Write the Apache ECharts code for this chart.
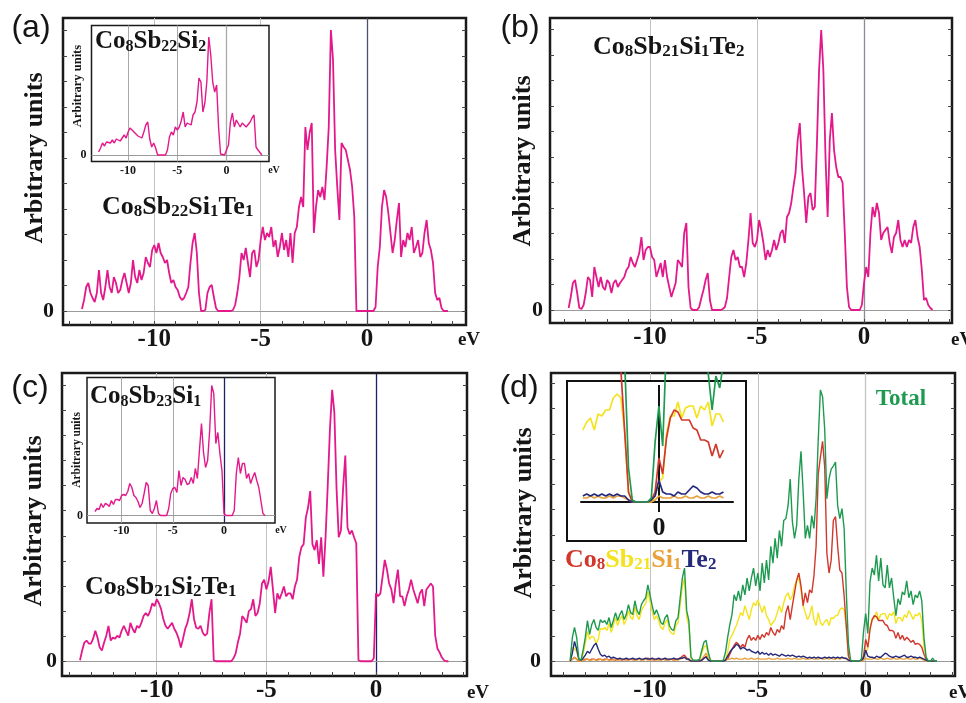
<!DOCTYPE html>
<html><head><meta charset="utf-8">
<script src="https://cdn.jsdelivr.net/npm/echarts@6/dist/echarts.min.js"></script>
<style>html,body{margin:0;padding:0;background:#fff}#c{width:966px;height:703px}</style>
</head><body><div id="c"></div>
<script>
// ---------------- data (arbitrary units) ----------------
const xLabels = [-10, -5, 0];
const yLabels = [0];
const xMinorTicks = [-14,-13,-12,-11,-10,-9,-8,-7,-6,-5,-4,-3,-2,-1,0,1,2,3,4];

// (a) Co8Sb22Si1Te1 : -13.4 .. 3.8 eV, step 0.1
const A_START = -13.4, A_STEP = 0.1;
const dosA = [
 2,11,24,28,18,13,9,18,41,18,
 11,24,41,24,18,34,28,18,21,31,
 38,28,18,28,51,34,28,41,31,38,
 54,48,44,61,66,58,68,58,54,48,
 51,38,28,31,24,21,14,11,13,18,
 24,48,68,78,58,18,0,0,1,18,
 24,26,14,3,0,0,0,0,0,0,
 0,1,6,18,34,58,51,63,48,34,
 58,61,44,51,71,84,71,78,74,84,
 64,71,54,64,78,61,71,54,78,48,
 78,84,104,114,104,184,161,178,188,78,
 104,121,114,124,111,144,184,281,251,161,
 124,91,168,164,161,151,141,124,94,0,
 0,0,0,0,0,0,0,0,4,44,
 64,104,121,114,98,78,58,71,91,108,
 54,71,64,78,71,84,58,64,71,54,
 58,78,91,68,61,48,18,11,13,3,
 0,0,0
];
// (a) inset Co8Sb22Si2 : -13.0 .. 3.6 eV, step 0.2
const IA_START = -13.0, IA_STEP = 0.2;
const dosInsetA = [
 3,7,12,9,13,11,12,15,12,16,
 17,14,15,20,17,23,27,29,23,21,
 19,17,17,23,30,33,16,8,12,7,
 0,0,0,0,0,5,18,23,20,28,
 25,28,34,43,28,32,33,30,40,43,
 53,77,73,43,52,73,118,100,73,63,
 70,27,1,0,0,0,10,33,42,28,
 35,33,28,32,33,28,27,33,37,40,
 8,5,3,0
];
// (b) Co8Sb21Si1Te2 : -13.8 .. 3.2 eV, step 0.1
const B_START = -13.8, B_STEP = 0.1;
const dosB = [
 2,13,27,30,17,2,1,5,17,33,
 30,13,43,33,23,33,23,20,30,27,
 17,27,30,23,27,30,33,40,43,53,
 47,43,50,57,73,50,60,63,63,53,
 50,33,40,47,33,50,33,23,13,20,
 27,50,47,43,77,87,23,2,0,0,
 0,3,12,20,30,37,10,0,0,0,
 0,0,1,3,12,33,53,60,50,53,
 43,43,33,47,70,97,67,63,70,90,
 80,67,50,60,53,60,70,60,67,77,
 80,67,93,97,107,123,137,170,187,143,
 117,87,113,117,100,103,167,240,280,240,
 153,93,170,197,160,143,133,133,127,77,
 23,3,0,0,0,0,0,5,27,43,
 33,77,103,93,107,97,70,77,80,83,
 67,57,73,77,90,70,63,70,63,70,
 67,83,90,73,63,40,10,12,5,2,
 0
];
// (c) Co8Sb21Si2Te1 : -13.5 .. 3.3 eV, step 0.1
const C_START = -13.5, C_STEP = 0.1;
const dosC = [
 1,11,19,21,18,18,23,31,24,14,
 11,19,26,36,21,24,23,26,24,31,
 36,31,26,39,33,29,36,34,39,46,
 49,46,51,59,56,63,59,53,43,36,
 33,36,39,33,29,23,14,23,33,39,
 49,63,43,34,33,36,29,26,28,49,
 63,1,0,0,0,0,0,0,0,0,
 3,8,19,28,46,43,39,51,53,63,
 46,49,59,79,83,73,81,96,73,49,
 69,63,69,76,66,69,69,63,76,83,
 106,116,119,146,156,173,119,113,123,99,
 126,86,126,179,236,276,253,176,126,133,
 176,209,136,129,133,126,120,1,0,0,
 0,0,0,0,3,69,66,69,86,103,
 93,79,73,59,79,93,66,66,56,66,
 73,83,73,66,59,69,73,56,73,76,
 79,76,26,13,9,4,1,0,0
];
// (c) inset Co8Sb23Si1 : -12.6 .. 4.0 eV, step 0.2
const IC_START = -12.6, IC_STEP = 0.2;
const dosInsetC = [
 4,7,6,12,8,12,11,9,15,11,
 16,16,15,20,21,20,24,32,28,20,
 18,14,8,12,22,33,30,5,2,7,
 15,2,0,0,0,0,7,22,27,28,
 23,45,30,38,36,31,32,38,32,47,
 37,65,92,63,48,55,85,130,122,72,
 83,62,45,2,0,0,0,0,5,42,
 58,42,52,52,37,42,32,38,43,35,
 28,15,2,0
];
// (d) Co8Sb21Si1Te2 total and partial DOS : -13.7 .. 3.3 eV, step 0.1
const D_START = -13.7, D_STEP = 0.1;
const dosTotal = [
 1,24,34,24,2,1,11,24,41,27,
 37,42,34,31,42,39,41,37,44,34,
 41,49,41,47,51,42,47,57,49,47,
 61,51,47,57,61,64,77,67,56,47,
 52,46,39,37,44,47,36,32,31,41,
 44,64,84,94,51,41,4,1,1,1,
 2,11,19,21,9,1,0,0,0,0,
 0,1,9,24,37,47,67,61,71,61,
 77,67,84,71,84,94,76,89,71,99,
 79,102,82,116,99,124,104,132,116,142,
 144,157,184,141,124,137,184,212,171,124,
 137,124,147,134,164,224,274,267,234,164,
 184,194,197,201,157,144,154,134,70,17,
 1,0,0,0,0,2,30,48,28,80,
 94,87,107,81,104,77,74,97,74,84,
 64,46,63,57,70,67,81,64,71,57,
 67,64,71,61,24,4,0,0,3,0,
 0
];
const dosCo = [
 0,2,4,2,0,0,1,2,2,1,
 2,2,1,2,2,1,2,2,1,2,
 2,1,2,2,1,2,2,1,2,2,
 1,2,2,1,2,2,3,2,2,1,
 2,2,1,2,2,1,2,2,1,2,
 2,3,5,6,3,2,0,0,0,0,
 0,1,3,5,2,0,0,0,0,0,
 0,0,1,2,7,12,16,19,17,14,
 17,14,22,26,21,24,21,26,22,27,
 24,29,26,34,29,26,32,29,36,32,
 49,56,42,56,69,82,89,76,56,69,
 59,72,69,86,116,189,206,222,196,109,
 89,102,142,146,116,92,89,66,35,5,
 0,0,0,0,0,1,5,22,14,32,
 42,46,45,41,41,41,37,36,31,31,
 30,23,29,22,26,21,24,22,19,21,
 17,18,17,14,7,2,0,0,0,0,
 0
];
const dosSb = [
 0,14,12,10,1,0,7,18,30,22,
 25,24,18,22,33,32,34,31,38,29,
 36,44,36,42,46,37,42,51,44,42,
 55,46,42,51,55,58,70,61,50,42,
 46,41,34,32,39,42,31,28,27,36,
 39,57,75,84,44,36,3,0,0,0,
 1,8,14,16,7,1,0,0,0,0,
 0,0,2,9,22,26,31,36,42,49,
 46,56,49,42,52,59,56,62,56,49,
 56,46,42,36,39,42,49,56,49,59,
 66,69,62,66,76,81,84,72,56,49,
 42,46,56,42,36,49,39,36,40,42,
 36,44,43,46,46,52,54,52,35,5,
 0,0,0,0,0,0,3,10,12,34,
 43,43,50,42,47,48,48,42,48,46,
 50,38,44,44,40,47,44,51,47,42,
 47,46,49,41,14,4,0,0,0,0,
 0
];
const dosTe = [
 0,8,20,12,2,1,3,6,10,8,
 12,16,18,12,7,5,6,4,5,3,
 4,3,2,3,2,2,3,2,2,3,
 2,2,3,2,2,3,2,2,3,2,
 2,3,2,2,3,2,2,2,3,2,
 2,3,3,4,2,2,0,0,0,0,
 0,1,3,4,1,0,0,0,0,0,
 0,0,1,5,9,12,14,17,16,12,
 14,13,11,12,10,9,8,10,7,9,
 7,8,6,8,6,7,6,5,7,6,
 5,6,5,6,5,4,5,4,5,4,
 3,4,3,4,3,4,3,3,4,3,
 4,3,4,3,4,3,4,3,3,1,
 0,0,0,0,0,1,3,11,5,4,
 4,3,5,4,4,6,8,7,5,4,
 4,5,4,4,5,6,4,4,5,4,
 4,3,4,3,2,1,0,0,0,0,
 0
];
const dosSi = [
 0,2,4,2,0,0,1,1,2,1,
 1,2,1,1,2,1,1,2,1,1,
 1,2,1,1,2,1,1,1,2,1,
 1,1,2,1,1,2,1,1,1,2,
 1,1,1,2,1,1,1,2,1,1,
 1,2,3,4,2,1,0,0,0,0,
 0,2,5,8,3,0,0,0,0,0,
 0,0,1,2,2,3,2,3,2,2,
 2,3,2,2,3,2,2,3,2,2,
 2,2,3,2,2,2,3,2,2,2,
 2,3,2,2,3,2,2,2,3,2,
 2,2,3,2,2,2,3,2,2,3,
 2,3,2,2,3,2,3,3,2,1,
 0,0,0,0,0,0,1,3,2,2,
 2,3,2,2,3,2,2,3,2,2,
 3,2,2,3,2,2,3,2,2,3,
 2,2,3,2,1,0,0,0,0,0,
 0
];

// ---------------- helpers ----------------
const SERIF = '"Liberation Serif","Times New Roman",serif';
const SANS = '"Liberation Sans",Arial,sans-serif';
const COL = {mag:'#E3198B', green:'#1E9A50', red:'#D2372B', yellow:'#F4E31C', orange:'#E9A13A', blue:'#24297C', ink:'#151515'};
const Y_TICK_STEP = 25.5;

function xy(start, step, vals, lo, hi) {
  const out = [];
  vals.forEach((v, i) => {
    const x = Math.round((start + i * step) * 100) / 100;
    if ((lo === undefined || x >= lo - 1e-9) && (hi === undefined || x <= hi + 1e-9)) out.push([x, v]);
  });
  return out;
}
function yTicks(max) { const t = []; for (let v = 0; v < max; v += Y_TICK_STEP) t.push(Math.round(v * 10) / 10); return t; }

const grids = [
  {left:63, top:18, width:403, height:307, show:true, borderColor:'#1a1a1a', borderWidth:2.5, z:0},
  {left:550, top:18, width:402, height:305, show:true, borderColor:'#1a1a1a', borderWidth:2.5, z:0},
  {left:62, top:373, width:405, height:308, show:true, borderColor:'#1a1a1a', borderWidth:2.5, z:0},
  {left:551, top:373, width:404, height:306, show:true, borderColor:'#1a1a1a', borderWidth:2.5, z:0},
  {left:91.5, top:25.5, width:177.5, height:136, show:true, backgroundColor:'#fff', borderColor:'#1a1a1a', borderWidth:1.5, z:6},
  {left:87, top:377.5, width:188, height:145.5, show:true, backgroundColor:'#fff', borderColor:'#1a1a1a', borderWidth:1.5, z:6},
  {left:581, top:373, width:152, height:129, show:false, z:6}
];
const mainX = [[-14.29,4.65],[-14.67,4.11],[-14.32,4.15],[-14.59,4.14]];
const mainY = [[-14,293],[-13,292],[-15,293],[-15,291]];
const yLabMargin = [9,7,5,10];
const zeroCol = ['#4b5070','#8c8c98','#1c2060','#c4c4c4'];

const xAxis = [], yAxis = [], series = [];
for (let i = 0; i < 4; i++) {
  xAxis.push({type:'value', gridIndex:i, position:'bottom', min:mainX[i][0], max:mainX[i][1], z:1,
    axisLine:{show:false, onZero:false}, splitLine:{show:false},
    axisTick:{show:true, inside:true, length:4, customValues:xMinorTicks, lineStyle:{color:'#444', width:1}},
    axisLabel:{customValues:xLabels, margin:2, color:COL.ink, fontFamily:SERIF, fontWeight:'bold', fontSize:25}});
}
xAxis.push({type:'value', gridIndex:4, position:'bottom', min:-13.72, max:4.32, z:7, axisLine:{show:false, onZero:false}, splitLine:{show:false}, axisTick:{show:false},
  axisLabel:{customValues:xLabels, margin:3, color:COL.ink, fontFamily:SERIF, fontWeight:'bold', fontSize:12}});
xAxis.push({type:'value', gridIndex:5, position:'bottom', min:-13.38, max:4.98, z:7, axisLine:{show:false, onZero:false}, splitLine:{show:false}, axisTick:{show:false},
  axisLabel:{customValues:xLabels, margin:2, color:COL.ink, fontFamily:SERIF, fontWeight:'bold', fontSize:12}});
xAxis.push({type:'value', gridIndex:6, position:'bottom', min:-2.05, max:1.95, z:7, splitLine:{show:false},
  axisLine:{show:true, onZero:false, lineStyle:{color:'#111', width:2}},
  axisTick:{show:true, inside:false, length:10, customValues:[0], lineStyle:{color:'#111', width:2}},
  axisLabel:{customValues:[0], margin:13, color:COL.ink, fontFamily:SERIF, fontWeight:'bold', fontSize:26}});

for (let i = 0; i < 4; i++) {
  yAxis.push({type:'value', gridIndex:i, position:'left', min:mainY[i][0], max:mainY[i][1], z:1,
    axisLine:{show:false, onZero:false}, splitLine:{show:false},
    axisTick:{show:true, inside:true, length:4, customValues:yTicks(mainY[i][1]), lineStyle:{color:'#444', width:1}},
    axisLabel:{customValues:yLabels, margin:yLabMargin[i], color:COL.ink, fontFamily:SERIF, fontWeight:'bold', fontSize:22}});
}
yAxis.push({type:'value', gridIndex:4, position:'left', min:-6.5, max:129.5, z:7, axisLine:{show:false, onZero:false}, splitLine:{show:false}, axisTick:{show:false},
  axisLabel:{customValues:yLabels, margin:5, color:COL.ink, fontFamily:SERIF, fontWeight:'bold', fontSize:12}});
yAxis.push({type:'value', gridIndex:5, position:'left', min:-7.5, max:138, z:7, axisLine:{show:false, onZero:false}, splitLine:{show:false}, axisTick:{show:false},
  axisLabel:{customValues:yLabels, margin:4, color:COL.ink, fontFamily:SERIF, fontWeight:'bold', fontSize:12}});
yAxis.push({type:'value', gridIndex:6, min:0, max:64.5, show:false, axisLine:{onZero:false}});
for (let i = 0; i < 4; i++) {
  yAxis.push({type:'value', gridIndex:i, position:'right', min:mainY[i][0], max:mainY[i][1], z:1,
    axisLine:{show:false, onZero:false}, splitLine:{show:false}, axisLabel:{show:false},
    axisTick:{show:true, inside:true, length:4, customValues:yTicks(mainY[i][1]), lineStyle:{color:'#444', width:1}}});
}

function gridLines(idx, zeroColor, z, vColor) {
  return {type:'line', xAxisIndex:idx, yAxisIndex:idx, data:[], z:z, silent:true,
    markLine:{z:z, silent:true, symbol:['none','none'], label:{show:false}, animation:false, emphasis:{disabled:true},
      data:[
        {xAxis:-10, lineStyle:{color:vColor, width:1, type:'solid'}},
        {xAxis:-5, lineStyle:{color:vColor, width:1, type:'solid'}},
        {xAxis:0, lineStyle:{color:zeroColor, width:1.3, type:'solid'}},
        {yAxis:0, lineStyle:{color:'#9a9a9a', width:1, type:'solid'}}
      ]}};
}
for (let i = 0; i < 4; i++) series.push(gridLines(i, zeroCol[i], 1, '#c2c2c2'));
series.push(gridLines(4, '#a8a8a8', 7, '#a8a8a8'));
series.push(gridLines(5, '#1c2060', 7, '#a8a8a8'));
series.push({type:'line', xAxisIndex:6, yAxisIndex:6, data:[], z:7, silent:true,
  markLine:{z:7, silent:true, symbol:['none','none'], label:{show:false}, animation:false,
    data:[[{coord:[0,0]},{coord:[0,58.5]}]], lineStyle:{color:'#111', width:2, type:'solid'}}});

function curve(idx, data, color, width, z, name) {
  return {type:'line', name:name, xAxisIndex:idx, yAxisIndex:idx, data:data, showSymbol:false, symbol:'none',
    lineStyle:{color:color, width:width}, z:z, silent:true};
}
series.push(curve(0, xy(A_START, A_STEP, dosA), COL.mag, 1.8, 3, 'Co8Sb22Si1Te1'));
series.push(curve(1, xy(B_START, B_STEP, dosB), COL.mag, 1.8, 3, 'Co8Sb21Si1Te2'));
series.push(curve(2, xy(C_START, C_STEP, dosC), COL.mag, 1.8, 3, 'Co8Sb21Si2Te1'));
const dParts = [[dosSb, COL.yellow, 'Sb'], [dosCo, COL.red, 'Co'], [dosSi, COL.orange, 'Si'], [dosTe, COL.blue, 'Te'], [dosTotal, COL.green, 'Total']];
dParts.forEach(p => series.push(curve(3, xy(D_START, D_STEP, p[0]), p[1], 1.4, 3, p[2])));
series.push(curve(4, xy(IA_START, IA_STEP, dosInsetA), COL.mag, 1.4, 8, 'Co8Sb22Si2'));
series.push(curve(5, xy(IC_START, IC_STEP, dosInsetC), COL.mag, 1.4, 8, 'Co8Sb23Si1'));
dParts.forEach(p => series.push(curve(6, xy(D_START, D_STEP, p[0], -2.0, 1.7), p[1], 1.7, 8, p[2] + ' (zoom)')));

// ---------------- text ----------------
function formula(x, y, tokens, big, small) {
  const rich = {}; let text = '';
  tokens.forEach((t, i) => {
    const sub = /^\d+$/.test(t[0]);
    rich['t' + i] = {fontFamily:SERIF, fontWeight:'bold', fontSize: sub ? small : big, fill: t[1] || COL.ink, verticalAlign:'bottom'};
    text += '{t' + i + '|' + t[0] + '}';
  });
  return {type:'text', x:x, y:y, z:20, style:{text:text, rich:rich, textAlign:'left', textVerticalAlign:'middle'}};
}
function label(x, y, text, font, opts) {
  opts = opts || {};
  return {type:'text', x:x, y:y, z:20, rotation: opts.rot || 0,
    style:{text:text, font:font, fill: opts.fill || COL.ink, textAlign: opts.align || 'center', textVerticalAlign:'middle'}};
}
const ROT = Math.PI / 2;
const elements = [
  {type:'rect', z:6, shape:{x:567, y:381, width:179, height:160}, style:{fill:'#fff', stroke:'#111', lineWidth:2}},
  label(31, 28, '(a)', '32px ' + SANS), label(520, 28, '(b)', '32px ' + SANS),
  label(30, 388, '(c)', '32px ' + SANS), label(519, 388, '(d)', '32px ' + SANS),
  label(35, 158, 'Arbitrary units', 'bold 26px ' + SERIF, {rot:ROT}),
  label(523, 161, 'Arbitrary units', 'bold 26px ' + SERIF, {rot:ROT}),
  label(34, 521, 'Arbitrary units', 'bold 26px ' + SERIF, {rot:ROT}),
  label(524, 513, 'Arbitrary units', 'bold 26px ' + SERIF, {rot:ROT}),
  label(77.5, 86, 'Arbitrary units', 'bold 12.5px ' + SERIF, {rot:ROT}),
  label(77, 450, 'Arbitrary units', 'bold 11.5px ' + SERIF, {rot:ROT}),
  label(469, 340, 'eV', 'bold 19px ' + SERIF),
  label(951, 340, 'eV', 'bold 19px ' + SERIF, {align:'left'}),
  label(478, 693, 'eV', 'bold 19px ' + SERIF),
  label(949, 693, 'eV', 'bold 19px ' + SERIF, {align:'left'}),
  label(274, 170, 'eV', 'bold 10px ' + SERIF),
  label(281, 530, 'eV', 'bold 10px ' + SERIF),
  label(901, 399, 'Total', 'bold 23px ' + SERIF, {fill:COL.green}),
  formula(102, 207, [['Co'],['8'],['Sb'],['22'],['Si'],['1'],['Te'],['1']], 26, 17),
  formula(95, 42, [['Co'],['8'],['Sb'],['22'],['Si'],['2']], 25, 16),
  formula(593, 47, [['Co'],['8'],['Sb'],['21'],['Si'],['1'],['Te'],['2']], 26, 17),
  formula(85, 587, [['Co'],['8'],['Sb'],['21'],['Si'],['2'],['Te'],['1']], 26, 17),
  formula(90, 397, [['Co'],['8'],['Sb'],['23'],['Si'],['1']], 25, 16),
  formula(565, 560, [['Co',COL.red],['8',COL.red],['Sb',COL.yellow],['21',COL.yellow],['Si',COL.orange],['1',COL.orange],['Te',COL.blue],['2',COL.blue]], 26, 17)
];

const chart = echarts.init(document.getElementById('c'), null, {renderer:'canvas'});
chart.setOption({animation:false, backgroundColor:'#fff', grid:grids, xAxis:xAxis, yAxis:yAxis, series:series, graphic:{elements:elements}});
</script>
</body></html>
